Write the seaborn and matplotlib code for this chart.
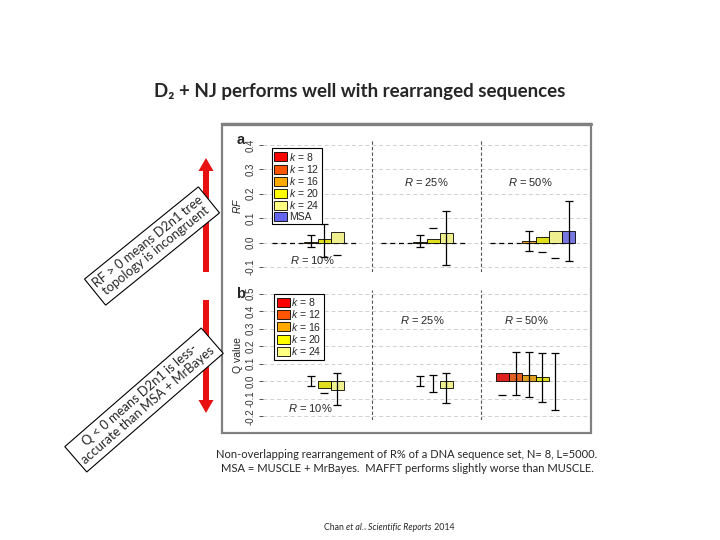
import numpy as np
import pandas as pd
import seaborn as sns
import matplotlib.pyplot as plt
from matplotlib.patches import FancyArrow, Rectangle, Patch

nan = np.nan

# categories
groups = ["R = 10%", "R = 25%", "R = 50%"]
group_labels = ["$R$ = 10%", "$R$ = 25%", "$R$ = 50%"]
k_levels = ["k = 8", "k = 12", "k = 16", "k = 20", "k = 24", "MSA"]
k_labels = ["$k$ = 8", "$k$ = 12", "$k$ = 16", "$k$ = 20", "$k$ = 24", "MSA"]
bar_colors = ["#FF0000", "#FF5500", "#FFAA00", "#FFFF00", "#FFFF80", "#6464F0"]

# panel a: RF distance (rows = R, columns = k levels)
rf_vals = [[0.0, 0.0, 0.003, 0.016, 0.045, 0.0],
           [0.0, 0.0, 0.003, 0.013, 0.041, 0.0],
           [0.0, 0.0, 0.007, 0.025, 0.046, 0.046]]
rf_lo = [[nan, nan, -0.018, -0.060, -0.049, nan],
         [nan, nan, -0.018, nan, -0.090, nan],
         [nan, nan, -0.034, -0.040, -0.062, -0.077]]
rf_hi = [[nan, nan, 0.033, 0.075, nan, nan],
         [nan, nan, 0.033, 0.062, 0.130, nan],
         [nan, nan, 0.046, nan, nan, 0.170]]

# panel b: Q value (no MSA bar)
q_vals = [[0.0, 0.0, 0.0, -0.035, -0.047, nan],
          [0.0, 0.0, 0.0, 0.0, -0.035, nan],
          [0.048, 0.048, 0.038, 0.023, 0.0, nan]]
q_lo = [[nan, nan, -0.028, -0.066, -0.133, nan],
        [nan, nan, -0.028, -0.060, -0.124, nan],
        [-0.076, -0.080, -0.089, -0.120, -0.162, nan]]
q_hi = [[nan, nan, 0.028, nan, 0.048, nan],
        [nan, nan, 0.028, 0.038, 0.048, nan],
        [nan, 0.168, 0.168, 0.162, 0.162, nan]]

rf_ticks = [-0.1, 0.0, 0.1, 0.2, 0.3, 0.4]
q_ticks = [-0.2, -0.1, 0.0, 0.1, 0.2, 0.3, 0.4, 0.5]

sns.set_style("white")
chart_font = ["Liberation Sans", "DejaVu Sans"]
slide_font = ["Lato", "DejaVu Sans"]
plt.rcParams["font.family"] = chart_font
plt.rcParams["mathtext.fontset"] = "custom"
plt.rcParams["mathtext.rm"] = "Liberation Sans"
plt.rcParams["mathtext.it"] = "Liberation Sans:italic"

BAR_W = 0.73


def to_frame(vals):
    rows = []
    for gi, g in enumerate(groups):
        for ki, k in enumerate(k_levels):
            rows.append({"R": g, "k": k, "val": vals[gi][ki]})
    return pd.DataFrame(rows)


def draw_errors(ax, lo, hi):
    n = len(k_levels)
    cw = 0.037
    for gi in range(len(groups)):
        for ki in range(n):
            x = gi + (ki - (n - 1) / 2) * BAR_W / n
            l, h = lo[gi][ki], hi[gi][ki]
            if not np.isnan(l) and not np.isnan(h):
                ax.vlines(x, l, h, colors="black", lw=0.9, zorder=3)
            for v in (l, h):
                if not np.isnan(v):
                    ax.hlines(v, x - cw, x + cw, colors="black", lw=0.9, zorder=3)


def style_panel(ax, ticks, ylim):
    ax.set_xlim(-0.5, 2.5)
    ax.set_ylim(*ylim)
    ax.set_xticks([])
    ax.set_xlabel("")
    ax.set_yticks(ticks)
    ax.set_yticklabels([f"{t:.1f}" for t in ticks], rotation=90, va="center")
    ax.tick_params(axis="y", labelsize=7, colors="#333333", length=3, width=0.6,
                   left=True, pad=2)
    for s in ax.spines.values():
        s.set_visible(False)
    ax.patch.set_alpha(0)
    for t in ticks:
        ax.axhline(t, color="#d0d0d0", ls=(0, (4, 3)), lw=0.7, zorder=0)
    for xs in (0.5, 1.5):
        ax.axvline(xs, color="#555555", ls=(0, (3, 2)), lw=0.8, zorder=1)
    # zero-height bars leave no outline
    for p in ax.patches:
        if p.get_height() == 0:
            p.set_linewidth(0)


def add_legend(ax, handles, anchor):
    leg = ax.legend(handles=handles, loc="upper left", bbox_to_anchor=anchor,
                    borderaxespad=0, fancybox=False, edgecolor="black", fontsize=7.5,
                    labelspacing=0.02, handlelength=1.25, handleheight=0.95,
                    handletextpad=0.15, borderpad=0.25, framealpha=1)
    leg.get_frame().set_linewidth(0.8)


fig = plt.figure(figsize=(7.2, 5.4), dpi=100)

# overlay in pixel coordinates for slide decorations
ax0 = fig.add_axes([0, 0, 1, 1])
ax0.set_xlim(0, 720)
ax0.set_ylim(540, 0)
ax0.axis("off")

ax0.text(360, 92, "D\u2082 + NJ performs well with rearranged sequences",
         ha="center", va="center", fontsize=13.5, fontweight="bold", family=slide_font)
ax0.add_patch(Rectangle((222, 124), 369, 309, fill=False, ec="#808080", lw=1.6))
ax0.plot([222, 591], [124, 124], color="#808080", lw=2.4)

ax0.add_patch(FancyArrow(206, 272, 0, -114, width=6, head_width=15, head_length=13,
                         length_includes_head=True, color="#E81010", lw=0))
ax0.add_patch(FancyArrow(206, 300, 0, 113, width=6, head_width=15, head_length=13,
                         length_includes_head=True, color="#E81010", lw=0))

box = dict(boxstyle="square,pad=0.35", fc="white", ec="black", lw=0.8)
ax0.text(152, 246, "RF > 0 means D2n1 tree\ntopology is incongruent", rotation=39,
         rotation_mode="anchor", ha="center", va="center", fontsize=9.3, linespacing=1.05,
         family=slide_font, bbox=box, zorder=5)
ax0.text(144, 400, "Q < 0 means D2n1 is less-\naccurate than MSA + MrBayes", rotation=41,
         rotation_mode="anchor", ha="center", va="center", fontsize=9.3, linespacing=1.05,
         family=slide_font, bbox=box, zorder=5)

ax0.text(241, 140, "a", fontsize=10.5, fontweight="bold", ha="center", va="center")
ax0.text(241, 294, "b", fontsize=10.5, fontweight="bold", ha="center", va="center")

ax0.text(407, 455, "Non-overlapping rearrangement of R% of a DNA sequence set, N= 8, L=5000.",
         ha="center", va="center", fontsize=8, family=slide_font)
ax0.text(407, 469, "MSA = MUSCLE + MrBayes.  MAFFT performs slightly worse than MUSCLE.",
         ha="center", va="center", fontsize=8, family=slide_font)

t = ax0.text(324, 527, "Chan ", fontsize=6.3, family=slide_font, va="center")
for piece, st in [("et al.", "italic"), (", ", "normal"),
                  ("Scientific Reports", "italic"), (" 2014", "normal")]:
    t = ax0.annotate(piece, xy=(1, 0), xycoords=t, va="bottom", ha="left",
                     fontsize=6.3, family=slide_font, style=st)

handles = [Patch(fc=c, ec="black", lw=0.6, label=l) for c, l in zip(bar_colors, k_labels)]

# panel a
ax_a = fig.add_axes([263 / 720, 1 - 272 / 540, 327 / 720, 132 / 540])
sns.barplot(data=to_frame(rf_vals), x="R", y="val", hue="k", order=groups,
            hue_order=k_levels, palette=bar_colors, width=BAR_W, errorbar=None,
            edgecolor="black", linewidth=0.6, legend=False, ax=ax_a, zorder=2)
style_panel(ax_a, rf_ticks, (-0.12, 0.42))
for gi in range(len(groups)):
    ax_a.hlines(0, gi - 0.42, gi + 0.38, colors="black", linestyles=(0, (4, 3)), lw=0.9, zorder=1)
draw_errors(ax_a, rf_lo, rf_hi)
ax_a.set_ylabel("$RF$", fontsize=7.5, labelpad=2)
ax_a.text(-0.05, -0.07, group_labels[0], ha="center", va="center", fontsize=8)
ax_a.text(1.0, 0.25, group_labels[1], ha="center", va="center", fontsize=8)
ax_a.text(1.95, 0.25, group_labels[2], ha="center", va="center", fontsize=8)
add_legend(ax_a, handles, (0.027, 0.94))

# panel b
ax_b = fig.add_axes([263 / 720, 1 - 420 / 540, 327 / 720, 130 / 540])
sns.barplot(data=to_frame(q_vals), x="R", y="val", hue="k", order=groups,
            hue_order=k_levels, palette=bar_colors, width=BAR_W, errorbar=None,
            edgecolor="black", linewidth=0.6, legend=False, ax=ax_b, zorder=2)
style_panel(ax_b, q_ticks, (-0.22, 0.52))
draw_errors(ax_b, q_lo, q_hi)
ax_b.set_ylabel("Q value", fontsize=7.5, labelpad=2)
ax_b.text(-0.07, -0.15, group_labels[0], ha="center", va="center", fontsize=8)
ax_b.text(0.96, 0.35, group_labels[1], ha="center", va="center", fontsize=8)
ax_b.text(1.92, 0.35, group_labels[2], ha="center", va="center", fontsize=8)
add_legend(ax_b, handles[:5], (0.034, 0.973))

fig.savefig("out.png", dpi=100)
